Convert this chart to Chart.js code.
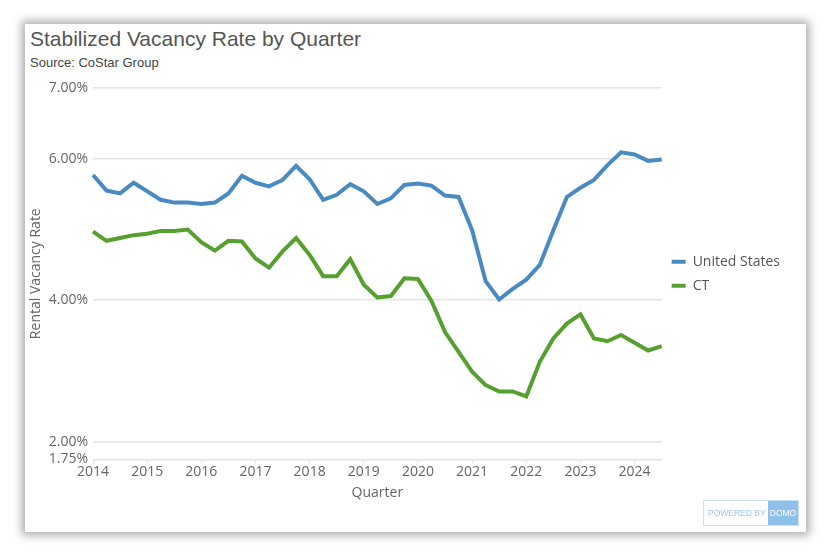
<!DOCTYPE html>
<html>
<head>
<meta charset="utf-8">
<script src="https://cdn.jsdelivr.net/npm/chart.js@4.4.1/dist/chart.umd.min.js"></script>
<style>
  body { margin: 0; background: #fff; width: 830px; height: 557px; overflow: hidden; position: relative; }
  .card { position: absolute; left: 25px; top: 24px; width: 781px; height: 508px; background: #fff;
          box-shadow: 0 0 9px 3px rgba(0,0,0,0.35); }
  .title { position: absolute; left: 5px; top: 3px; font: 21px "Liberation Sans", Arial, sans-serif; color: #555; }
  .sub { position: absolute; left: 5px; top: 31px; font: 13px "Liberation Sans", Arial, sans-serif; color: #444; }
  .wrap { position: absolute; left: 0; top: 46px; width: 781px; height: 435px; }
  .domo { position: absolute; left: 678px; top: 476px; width: 94px; height: 24px; border: 1px solid #c9e1f5;
          font: 8.5px "Liberation Sans", Arial, sans-serif; color: #9cc7ec; display: flex; align-items: center;
          white-space: nowrap; }
  .domo span { padding-left: 4px; }
  .domo b { margin-left: auto; height: 100%; width: 30px; background: #8fc0ea; color: #fff; font-weight: normal;
            display: flex; align-items: center; justify-content: center; font-size: 8.5px; }
</style>
</head>
<body>
<div class="card">
  <div class="title">Stabilized Vacancy Rate by Quarter</div>
  <div class="sub">Source: CoStar Group</div>
  <div class="wrap"><canvas id="chartVacancy" width="781" height="435"></canvas></div>
  <div class="domo"><span>POWERED BY</span><b>DOMO</b></div>
</div>
<script>
const quarters = [
  '2014 Q1','2014 Q2','2014 Q3','2014 Q4','2015 Q1','2015 Q2','2015 Q3','2015 Q4',
  '2016 Q1','2016 Q2','2016 Q3','2016 Q4','2017 Q1','2017 Q2','2017 Q3','2017 Q4',
  '2018 Q1','2018 Q2','2018 Q3','2018 Q4','2019 Q1','2019 Q2','2019 Q3','2019 Q4',
  '2020 Q1','2020 Q2','2020 Q3','2020 Q4','2021 Q1','2021 Q2','2021 Q3','2021 Q4',
  '2022 Q1','2022 Q2','2022 Q3','2022 Q4','2023 Q1','2023 Q2','2023 Q3','2023 Q4',
  '2024 Q1','2024 Q2','2024 Q3'
];
const unitedStates = [
  5.77, 5.55, 5.51, 5.66, 5.54, 5.42, 5.38, 5.38, 5.36, 5.38, 5.51, 5.76,
  5.66, 5.61, 5.70, 5.90, 5.71, 5.42, 5.49, 5.64, 5.54, 5.36, 5.44, 5.63,
  5.65, 5.62, 5.48, 5.46, 4.99, 4.27, 4.01, 4.16, 4.29, 4.50, 4.99, 5.46,
  5.59, 5.70, 5.91, 6.09, 6.06, 5.97, 5.99
];
const ct = [
  4.97, 4.84, 4.88, 4.92, 4.94, 4.98, 4.98, 5.00, 4.82, 4.70, 4.84, 4.83,
  4.59, 4.46, 4.69, 4.88, 4.64, 4.34, 4.34, 4.58, 4.22, 4.04, 4.06, 4.31,
  4.30, 3.99, 3.55, 3.27, 2.99, 2.80, 2.71, 2.71, 2.64, 3.13, 3.46, 3.67,
  3.80, 3.46, 3.42, 3.51, 3.40, 3.29, 3.35
];
const yTicks = [1.75, 2, 4, 6, 7];

const gridColor = '#e4e4e4';
const textColor = '#666';

const ctx = document.getElementById('chartVacancy');
new Chart(ctx, {
  type: 'line',
  data: {
    labels: quarters,
    datasets: [{
      label: 'United States',
      data: unitedStates,
      borderColor: '#4a8ac2',
      backgroundColor: '#4a8ac2',
      borderWidth: 4,
      pointRadius: 0,
      tension: 0
    }, {
      label: 'CT',
      data: ct,
      borderColor: '#55a02f',
      backgroundColor: '#55a02f',
      borderWidth: 4,
      pointRadius: 0,
      tension: 0
    }]
  },
  options: {
    responsive: false,
    animation: false,
    maintainAspectRatio: false,
    layout: { padding: { top: 18, right: 16, bottom: 4, left: 3 } },
    plugins: {
      legend: {
        position: 'right',
        fullSize: false,
        labels: {
          boxWidth: 14,
          boxHeight: 4,
          padding: 10,
          color: '#555',
          font: { family: 'Open Sans', size: 14 },
          generateLabels(chart) {
            const items = Chart.defaults.plugins.legend.labels.generateLabels(chart);
            items.forEach(i => { i.lineWidth = 0; });
            return items;
          }
        }
      },
      tooltip: { enabled: false }
    },
    scales: {
      x: {
        type: 'category',
        offset: false,
        border: { display: false },
        grid: {
          drawOnChartArea: false,
          tickLength: 4,
          tickColor: c => (c.index % 4 === 0 ? gridColor : 'rgba(0,0,0,0)')
        },
        ticks: {
          autoSkip: false,
          maxRotation: 0,
          padding: 0,
          color: textColor,
          font: { family: 'Open Sans', size: 14 },
          callback: (v, i) => (i % 4 === 0 ? quarters[i].slice(0, 4) : '')
        },
        title: {
          display: true,
          text: 'Quarter',
          color: textColor,
          font: { family: 'Open Sans', size: 14 },
          padding: { top: 4, bottom: 0 }
        }
      },
      y: {
        min: 1.75,
        max: 7,
        border: { display: false },
        afterBuildTicks: s => { s.ticks = yTicks.map(v => ({ value: v })); },
        afterFit: s => { s.width = 65; },
        grid: { color: gridColor, drawTicks: false, lineWidth: 1.5 },
        ticks: {
          padding: 5,
          color: textColor,
          font: { family: 'Open Sans', size: 14 },
          callback: v => v.toFixed(2) + '%'
        },
        title: {
          display: true,
          text: 'Rental Vacancy Rate',
          color: textColor,
          font: { family: 'Open Sans', size: 14 },
          padding: 0
        }
      }
    }
  }
});
</script>
</body>
</html>
